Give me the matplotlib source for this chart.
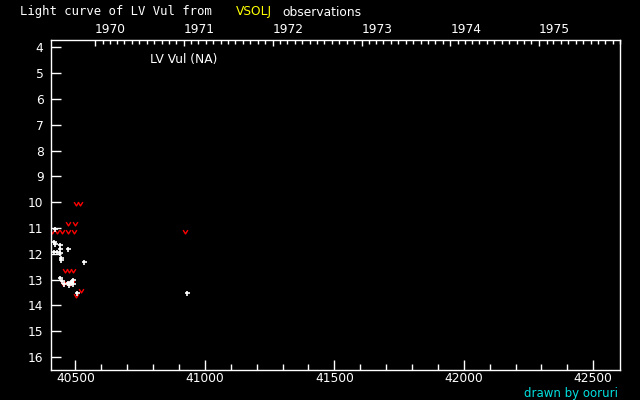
import numpy as np
import matplotlib
matplotlib.use("Agg")
import matplotlib.pyplot as plt
from matplotlib.path import Path

# observations (JD - 2400000, magnitude)
obs_jd = [40422, 40417, 40422, 40439, 40439, 40471, 40417, 40429, 40439,
          40445, 40445, 40533, 40439, 40448, 40456, 40471, 40484, 40490,
          40490, 40474, 40507, 40932]
obs_mag = [11.04, 11.55, 11.60, 11.64, 11.81, 11.81, 11.93, 11.93, 11.95,
           12.15, 12.24, 12.32, 12.95, 13.05, 13.15, 13.12, 13.09, 13.02,
           13.17, 13.21, 13.53, 13.53]

# fainter-than estimates
lim_jd = [40502, 40517, 40471, 40498, 40409, 40429, 40448, 40471, 40494,
          40459, 40475, 40490, 40452, 40464, 40478, 40486, 40522, 40503,
          40924]
lim_mag = [10.07, 10.07, 10.86, 10.86, 11.16, 11.16, 11.16, 11.16, 11.16,
           12.67, 12.67, 12.67, 13.15, 13.12, 13.17, 13.12, 13.43, 13.64,
           11.17]

years = [1970, 1971, 1972, 1973, 1974, 1975]

# open "v" marker for the limits
vmark = Path([(-1, 1), (0, -0.6), (1, 1)],
             [Path.MOVETO, Path.LINETO, Path.LINETO])


def jd_of(date):
    # JD - 2400000 of a calendar date
    mjd = (np.datetime64(date) - np.datetime64('1858-11-17')).astype(int)
    return mjd + 0.5


fs = 8.8

fig = plt.figure(figsize=(6.4, 4.0), dpi=100, facecolor='black')
ax = fig.add_axes([0.079, 0.075, 0.890, 0.824], facecolor='black')

ax.plot(lim_jd, lim_mag, linestyle='none', marker=vmark, markersize=3.4,
        markeredgecolor='red', markerfacecolor='none', markeredgewidth=1)
ax.plot(obs_jd, obs_mag, linestyle='none', marker='+', markersize=3.6,
        color='white', markeredgewidth=1.2)

ax.set_xlim(40404, 42604)
ax.set_ylim(16.5, 3.73)

for s in ax.spines.values():
    s.set_color('white')
    s.set_linewidth(1)

ax.set_xticks(np.arange(40500, 42501, 500))
ax.set_xticks(np.arange(40500, 42600, 100), minor=True)
ax.set_yticks(np.arange(4, 17, 1))
ax.tick_params(axis='x', which='major', direction='in', length=7.5,
               width=1, colors='white', labelsize=fs, pad=1.5,
               top=False)
ax.tick_params(axis='x', which='minor', direction='in', length=4,
               width=1, colors='white', top=False)
ax.tick_params(axis='y', which='major', direction='in', length=7.5,
               width=1, colors='white', labelsize=fs, pad=5, right=False)

# calendar years along the top
top = ax.twiny()
top.set_xlim(ax.get_xlim())
top.set_xticks([jd_of(f'{y}-01-01') for y in years])
top.set_xticklabels([str(y) for y in years])
months = np.arange(np.datetime64('1970-01'), np.datetime64('1976-01'))
top.set_xticks([jd_of(str(m) + '-01') for m in months], minor=True)
top.tick_params(axis='x', which='major', direction='in', length=4.5,
                width=1, colors='white', labelsize=fs, pad=3)
top.tick_params(axis='x', which='minor', direction='in', length=3,
                width=1, colors='white')
for lab in top.get_xticklabels():
    lab.set_horizontalalignment('left')
for s in top.spines.values():
    s.set_visible(False)

fig.text(20 / 640, 1 - 12 / 400, 'Light curve of LV Vul from',
         color='white', fontsize=fs, va='center', family='DejaVu Sans Mono')
fig.text(236 / 640, 1 - 12 / 400, 'VSOLJ', color='yellow', fontsize=fs,
         va='center')
fig.text(282 / 640, 1 - 12 / 400, 'observations', color='white',
         fontsize=fs, va='center')
fig.text(150 / 640, 1 - 60 / 400, 'LV Vul (NA)', color='white', fontsize=fs,
         va='center')
fig.text(618 / 640, 1 - 393 / 400, 'drawn by ooruri', color='#00e0e0',
         fontsize=8.5, va='center', ha='right')

fig.savefig('out.png', dpi=100, facecolor='black')
